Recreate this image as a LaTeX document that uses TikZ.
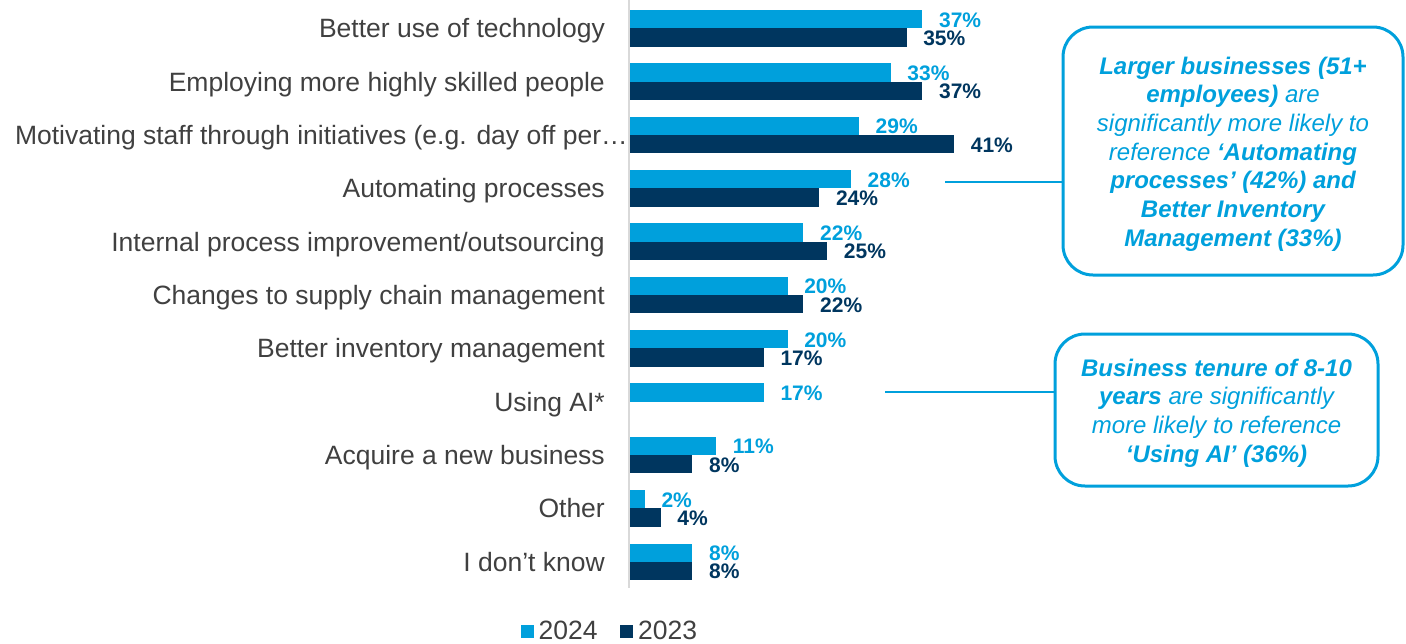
\documentclass[tikz,border=0pt]{standalone}
\usepackage{fontspec}
\setmainfont{Liberation Sans}
\definecolor{lb}{HTML}{00A0DC}
\definecolor{db}{HTML}{00365F}
\definecolor{tg}{HTML}{404040}
\definecolor{axc}{HTML}{D9D9D9}
\newcommand{\chartrow}[5]{%
  \pgfmathsetmacro{\rowtop}{10+53.35*#1}%
  \pgfmathsetmacro{\rowmid}{\rowtop+18.3}%
  \pgfmathsetmacro{\rowbot}{\rowmid+18.3}%
  \pgfmathsetmacro{\xa}{629+7.93*#3}%
  \node[cat] (cat#1) at (#5,\rowmid+9.5) {#2};
  \fill[lb] (630,\rowtop) rectangle (\xa,\rowmid);
  \node[val24] (va#1) at (\xa+16.5,\rowtop+9.15+8) {#3\%};
  \ifnum#4>-1
    \pgfmathsetmacro{\xb}{629+7.93*#4}%
    \fill[db] (630,\rowmid) rectangle (\xb,\rowbot);
    \node[val23] (vb#1) at (\xb+16.5,\rowmid+9.15+8) {#4\%};
  \fi
}
\begin{document}
\begin{tikzpicture}[x=1pt,y=-1pt,
  cat/.style={anchor=base east,text=tg,font=\fontsize{26.5}{30}\selectfont,inner sep=0pt},
  val24/.style={anchor=base west,text=lb,font=\bfseries\fontsize{21}{24}\selectfont,inner sep=0pt},
  val23/.style={anchor=base west,text=db,font=\bfseries\fontsize{21}{24}\selectfont,inner sep=0pt},
  callout/.style={draw=lb,line width=3pt,rounded corners=30pt},
  callouttext/.style={text=lb,align=center,font=\itshape\fontsize{24}{28.7}\selectfont,inner sep=0pt},
  link/.style={draw=lb,line width=1.3pt},
  legtext/.style={anchor=base west,text=tg,font=\fontsize{26.5}{30}\selectfont,inner sep=0pt}]
\useasboundingbox (0,0) rectangle (1406,643);
\draw[axc,line width=1.5pt] (629,0) -- (629,588);
\chartrow{0}{Better use of technology}{37}{35}{605}
\chartrow{1}{Employing more highly skilled people}{33}{37}{605}
\chartrow{2}{Motivating staff through initiatives (e.g. day off per…}{29}{41}{628}
\chartrow{3}{Automating processes}{28}{24}{605}
\chartrow{4}{Internal process improvement/outsourcing}{22}{25}{605}
\chartrow{5}{Changes to supply chain management}{20}{22}{605}
\chartrow{6}{Better inventory management}{20}{17}{605}
\chartrow{7}{Using AI*}{17}{-1}{605}
\chartrow{8}{Acquire a new business}{11}{8}{605}
\chartrow{9}{Other}{2}{4}{605}
\chartrow{10}{I don’t know}{8}{8}{605}
\node[callout,minimum width=340pt,minimum height=248pt] (box1) at (1233,151) {};
\node[callouttext] (txt1) at (1233,154)
  {\textbf{Larger businesses (51+}\\ \textbf{employees)} are\\ significantly more likely to\\ reference \textbf{‘Automating}\\ \textbf{processes’ (42\%) and}\\ \textbf{Better Inventory}\\ \textbf{Management (33\%)}};
\node[callout,minimum width=323pt,minimum height=152pt] (box2) at (1216.5,410) {};
\node[callouttext] (txt2) at (1216.5,413)
  {\textbf{Business tenure of 8-10}\\ \textbf{years} are significantly\\ more likely to reference\\ \textbf{‘Using AI’ (36\%)}};
\coordinate (c1) at (945,182);
\coordinate (c2) at (885,392);
\draw[link] (c1) -- (c1 -| box1.west);
\draw[link] (c2) -- (c2 -| box2.west);
\fill[lb] (520.5,625) rectangle (534,638);
\node[legtext] (leg24) at (538.5,639.5) {2024};
\fill[db] (619.5,625) rectangle (633,638);
\node[legtext] (leg23) at (638,639.5) {2023};
\end{tikzpicture}
\end{document}
